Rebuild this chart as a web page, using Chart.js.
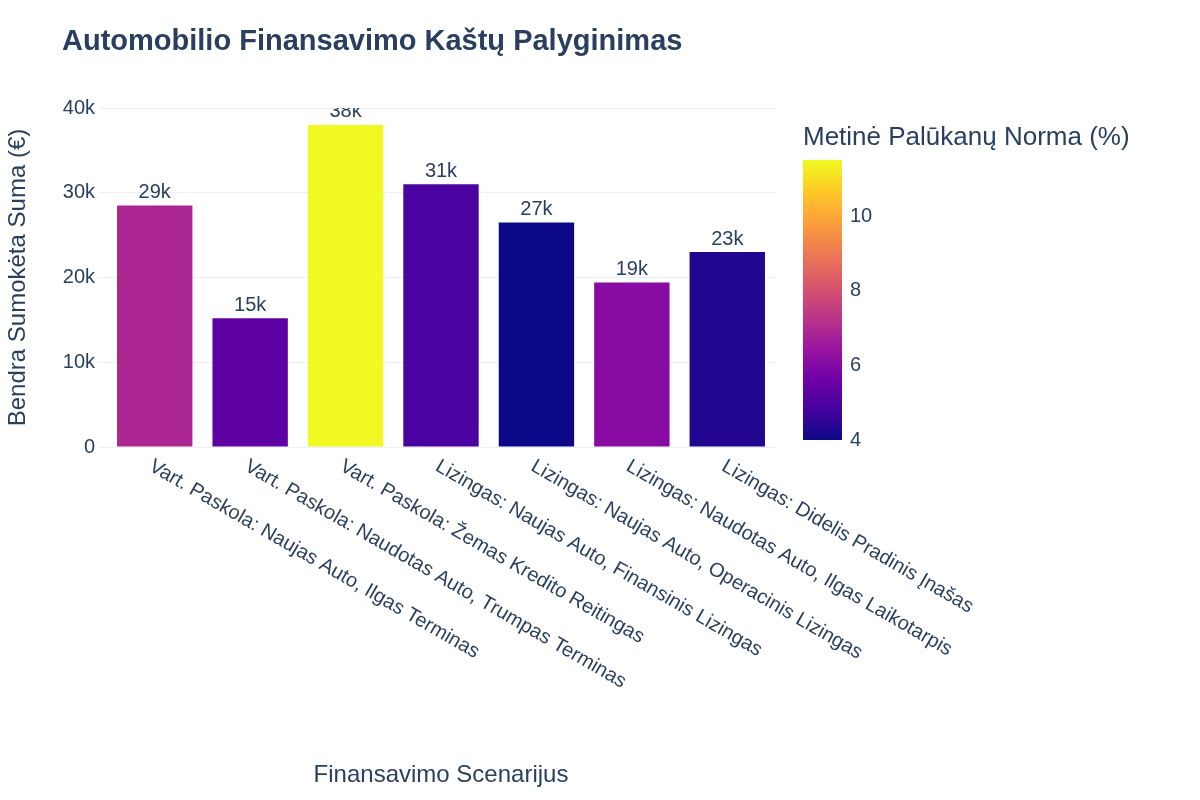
<!DOCTYPE html>
<html><head><meta charset="utf-8">
<script src="https://cdn.jsdelivr.net/npm/chart.js@4"></script>
<style>html,body{margin:0;background:#fff}#wrap{width:1200px;height:800px}</style>
</head><body><div id="wrap"><canvas id="c"></canvas></div>
<script>
const categories = ["Vart. Paskola: Naujas Auto, Ilgas Terminas","Vart. Paskola: Naudotas Auto, Trumpas Terminas","Vart. Paskola: Žemas Kredito Reitingas","Lizingas: Naujas Auto, Finansinis Lizingas","Lizingas: Naujas Auto, Operacinis Lizingas","Lizingas: Naudotas Auto, Ilgas Laikotarpis","Lizingas: Didelis Pradinis Įnašas"];
const totals = [28500, 15200, 38000, 31000, 26500, 19400, 23000];
const rates = [6.9, 5.3, 11.5, 4.9, 4.0, 6.1, 4.3];
const colorbarTicks = [4, 6, 8, 10];
const rateMin = 4, rateMax = 11.5;
const plasma = ["#0d0887","#46039f","#7201a8","#9c179e","#bd3786","#d8576b","#ed7953","#fb9f3a","#fdca26","#f0f921"];
const FONT = "'Liberation Sans', Arial, sans-serif";
const TXT = "#2a3f5f";
function hex(h){return [1,3,5].map(i=>parseInt(h.substr(i,2),16));}
function plasmaAt(t){t=Math.max(0,Math.min(1,t));const p=t*(plasma.length-1);const i=Math.min(Math.floor(p),plasma.length-2);const f=p-i;const a=hex(plasma[i]),b=hex(plasma[i+1]);return `rgb(${a.map((v,k)=>Math.round(v+(b[k]-v)*f)).join(",")})`;}
const colors = rates.map(r=>plasmaAt((r-rateMin)/(rateMax-rateMin)));
const fmtK = v => Math.round(v/1000)+"k";

const deco = {
  id:'deco',
  afterDatasetsDraw(chart){
    const ctx=chart.ctx, a=chart.chartArea, meta=chart.getDatasetMeta(0);
    ctx.save();
    ctx.beginPath();ctx.rect(a.left,a.top,a.right-a.left,a.bottom-a.top);ctx.clip();
    ctx.fillStyle=TXT;ctx.font="20px "+FONT;ctx.textAlign="center";ctx.textBaseline="bottom";
    meta.data.forEach((b,i)=>ctx.fillText(fmtK(totals[i]),b.x,b.y-3));
    ctx.restore();
  },
  afterDraw(chart){
    const ctx=chart.ctx, a=chart.chartArea, meta=chart.getDatasetMeta(0);
    ctx.save();
    ctx.fillStyle=TXT;
    ctx.font="bold 29px "+FONT;ctx.textAlign="left";ctx.textBaseline="middle";
    ctx.fillText("Automobilio Finansavimo Kaštų Palyginimas",62,42);
    ctx.font="20px "+FONT;
    meta.data.forEach((b,i)=>{ctx.save();ctx.translate(b.x-4,a.bottom+18);ctx.rotate(Math.PI/6);ctx.textAlign="left";ctx.textBaseline="middle";ctx.fillText(categories[i],0,0);ctx.restore();});
    ctx.font="24px "+FONT;ctx.textAlign="center";
    ctx.fillText("Finansavimo Scenarijus",441,775);
    // colorbar
    const x0=803,w=39,yTop=160,yBot=440;
    const g=ctx.createLinearGradient(0,yBot,0,yTop);
    plasma.forEach((c,i)=>g.addColorStop(i/(plasma.length-1),c));
    ctx.fillStyle=g;ctx.fillRect(x0,yTop,w,yBot-yTop);
    ctx.fillStyle=TXT;ctx.textAlign="left";ctx.font="26px "+FONT;
    ctx.fillText("Metinė Palūkanų Norma (%)",803,138);
    ctx.font="20px "+FONT;
    colorbarTicks.forEach(t=>{const y=yBot-(t-rateMin)/(rateMax-rateMin)*(yBot-yTop);ctx.fillText(String(t),850,y);});
    ctx.restore();
  }
};

new Chart(document.getElementById('c'),{
  type:'bar',
  data:{labels:categories,datasets:[{data:totals,backgroundColor:colors,categoryPercentage:0.79,barPercentage:1}]},
  options:{
    responsive:true,maintainAspectRatio:false,animation:false,
    layout:{padding:{left:0,right:425,top:108,bottom:345}},
    plugins:{legend:{display:false},tooltip:{enabled:false}},
    scales:{
      x:{ticks:{display:false},grid:{display:false},border:{display:false}},
      y:{min:0,max:40000,ticks:{stepSize:10000,callback:v=>v===0?"0":fmtK(v),color:TXT,font:{size:20,family:FONT},padding:4},
         grid:{color:"#ebf0f8"},border:{display:false},
         title:{display:true,text:"Bendra Sumokėta Suma (€)",color:TXT,font:{size:24,family:FONT}},
         afterFit(s){s.width=107;}}
    }
  },
  plugins:[deco]
});
</script></body></html>
